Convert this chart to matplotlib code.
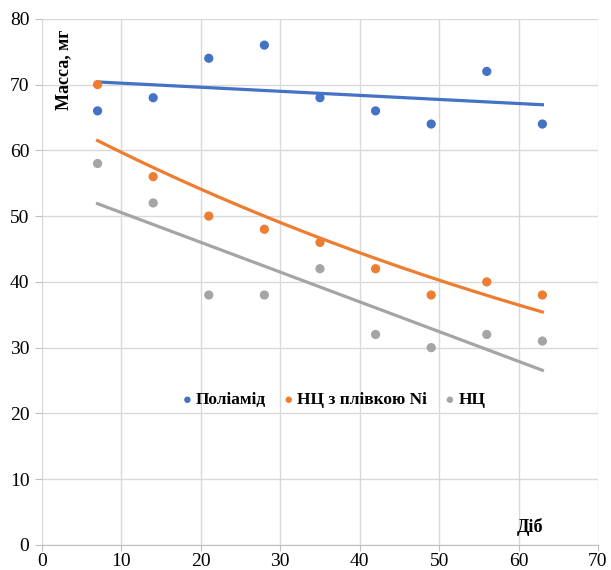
import numpy as np
import matplotlib
matplotlib.use("Agg")
import matplotlib.pyplot as plt

plt.rcParams['font.family'] = ['Liberation Serif', 'DejaVu Serif']

days = [7, 14, 21, 28, 35, 42, 49, 56, 63]
polyamide = [66, 68, 74, 76, 68, 66, 64, 72, 64]
nc_ni = [70, 56, 50, 48, 46, 42, 38, 40, 38]
nc = [58, 52, 38, 38, 42, 32, 30, 32, 31]

labels = ['Поліамід', 'НЦ з плівкою Ni', 'НЦ']
colors = ['#4472C4', '#ED7D31', '#A5A5A5']

x = np.array(days, dtype=float)
xs = np.linspace(x.min(), x.max(), 200)

fig = plt.figure(figsize=(6.11, 5.70), dpi=100)
ax = fig.add_axes([0.0687, 0.044, 0.910, 0.923])

# scatter points
for ys, c, lab in zip([polyamide, nc_ni, nc], colors, labels):
    ax.scatter(days, ys, s=44, color=c, zorder=3, label=lab, edgecolors='none')

# trend lines: linear for polyamide and НЦ, exponential for НЦ з плівкою Ni
p = np.polyfit(x, polyamide, 1)
ax.plot(xs, np.polyval(p, xs), color=colors[0], lw=2.3, zorder=2)
pe = np.polyfit(x, np.log(nc_ni), 1)
ax.plot(xs, np.exp(np.polyval(pe, xs)), color=colors[1], lw=2.3, zorder=2)
p2 = np.polyfit(x, nc, 1)
ax.plot(xs, np.polyval(p2, xs), color=colors[2], lw=2.3, zorder=2)

ax.set_xlim(0, 70)
ax.set_ylim(0, 80)
ax.set_xticks(range(0, 71, 10))
ax.set_yticks(range(0, 81, 10))
ax.grid(True, color='#D9D9D9', lw=1)
ax.set_axisbelow(True)
for s in ['top', 'right', 'left']:
    ax.spines[s].set_visible(False)
ax.spines['bottom'].set_color('#BFBFBF')
ax.tick_params(axis='both', labelsize=14, color='#BFBFBF', length=4)
ax.tick_params(axis='x', pad=2)
ax.tick_params(axis='y', length=5, pad=4)

ax.text(2.7, 78.3, 'Масса, мг', rotation=90, ha='center', va='top',
        fontsize=13, fontweight='bold')
ax.text(61.4, 2.7, 'Діб', ha='center', va='center', fontsize=13, fontweight='bold')

leg = ax.legend(loc='center', bbox_to_anchor=(0.525, 0.275), ncol=3, frameon=False,
                prop={'weight': 'bold', 'size': 12.5}, handlelength=0.6,
                handletextpad=0.2, columnspacing=1.0, markerscale=0.7)

fig.savefig('out.png', dpi=100)
